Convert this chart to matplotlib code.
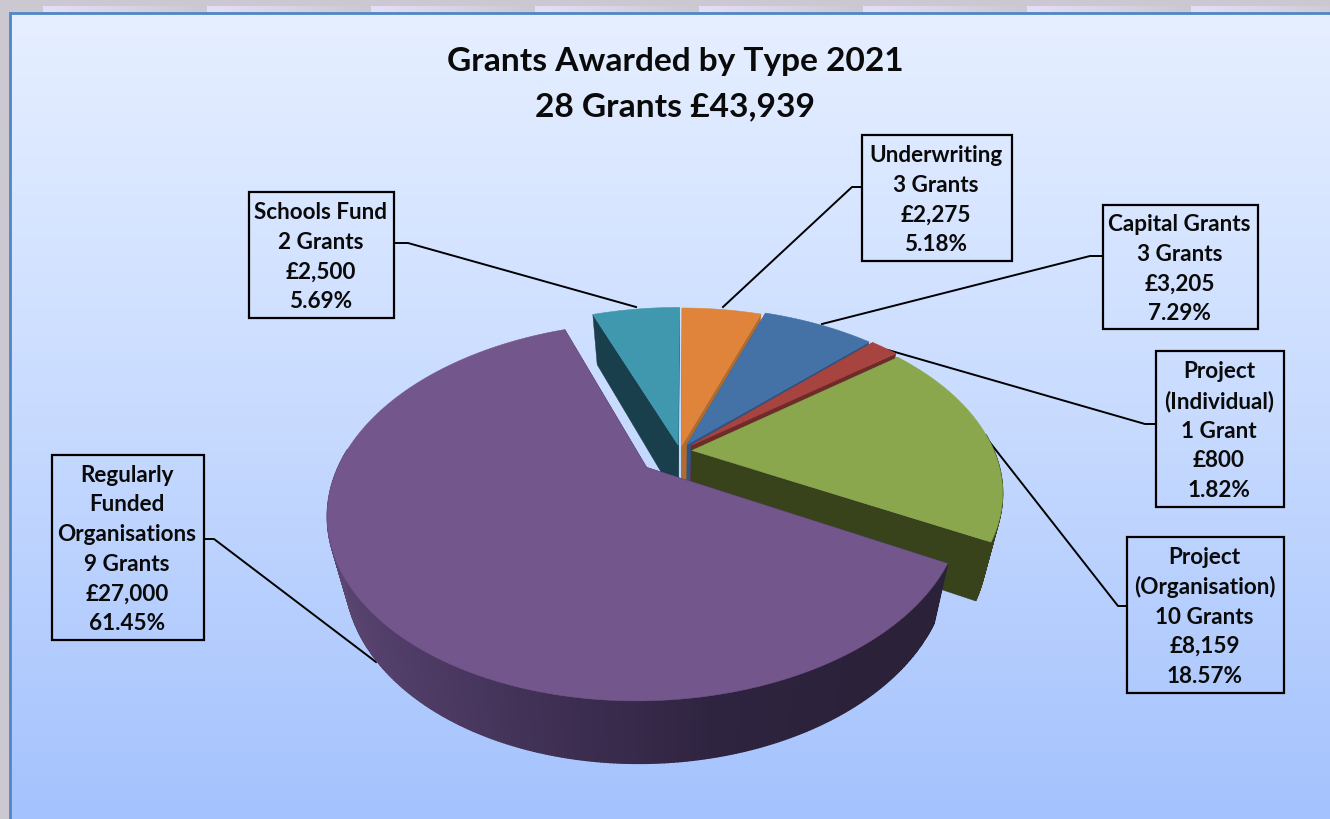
import numpy as np
import matplotlib
matplotlib.use("Agg")
import matplotlib.pyplot as plt
from matplotlib.colors import to_rgb, LinearSegmentedColormap
from matplotlib.patches import Polygon, Rectangle

plt.rcParams['font.family'] = ['Lato', 'DejaVu Sans']

# ---- data (clockwise from the top of the pie) ----
categories = ["Underwriting", "Capital Grants", "Project\n(Individual)",
              "Project\n(Organisation)", "Regularly\nFunded\nOrganisations", "Schools Fund"]
grant_labels = ["3 Grants", "3 Grants", "1 Grant", "10 Grants", "9 Grants", "2 Grants"]
amounts = [2275, 3205, 800, 8159, 27000, 2500]
percents = ["5.18%", "7.29%", "1.82%", "18.57%", "61.45%", "5.69%"]
title_lines = "Grants Awarded by Type 2021\n28 Grants £43,939"

# ---- style ----
top_colors = ["#df843a", "#4472a6", "#a84440", "#8aa74e", "#72568c", "#4098ae"]
side_colors = ["#b06c2e", "#2f5584", "#6f2a2a", "#38431c", None, "#193f4c"]
explode = [0.03, 0.045, 0.05, 0.04, 0.143, 0.035]
start_angle = 0.2
draw_order = [5, 0, 1, 2, 3, 4]
CX, CY, RX, RY, PERSP, SHRINK = 680, 451, 302, 171.5, 0.228, 0.95

boxes = [(862, 135, 1012, 261), (1103, 205, 1258, 329), (1156, 351, 1284, 507),
         (1127, 537, 1284, 693), (52, 455, 204, 640), (249, 192, 394, 318)]
leaders = [[(862, 187), (852, 187), (723, 307)],
           [(1103, 256), (1090, 256), (822, 324)],
           [(1156, 424), (1145, 424), (888, 350)],
           [(1127, 606), (1118, 606), (988, 440)],
           [(204, 539), (214, 539), (376, 662)],
           [(394, 243), (408, 243), (636, 307)]]

fig = plt.figure(figsize=(13.3, 8.19), dpi=100, facecolor="#cbc8d2")
ax = fig.add_axes([0, 0, 1, 1])
ax.axis("off")

# window chrome behind the chart
strip = LinearSegmentedColormap.from_list("s", ["#e5def8", "#cbc8d2"])
for x0 in range(43, 1330, 164):
    ax.imshow(np.linspace(0, 1, 64)[None, :], cmap=strip, aspect="auto",
              extent=(x0, x0 + 164, 12, 6), zorder=0)
# chart background
bg = LinearSegmentedColormap.from_list("b", ["#e6efff", "#c8dbff", "#a4c2fd"])
ax.imshow(np.linspace(0, 1, 256)[:, None], cmap=bg, aspect="auto",
          extent=(10, 1330, 819, 13), zorder=1)
ax.set_xlim(0, 1330)
ax.set_ylim(819, 0)
ax.plot([10, 10, 1330], [819, 13, 13], color="#4f86c6", lw=2, zorder=2,
        solid_joinstyle="miter")


def project(u, v, low=False):
    s = 1 / (1 + PERSP * v)
    if low:
        return CX + RX * u * s * SHRINK, CY - RY * v * s + 56 - 6 * v
    return CX + RX * u * s, CY - RY * v * s


fractions = np.array(amounts) / sum(amounts)
edges = start_angle + np.concatenate([[0], np.cumsum(fractions)]) * 360
purple_ramp = LinearSegmentedColormap.from_list(
    "p", ["#5d4874", "#4f3c66", "#3e2f53", "#2f2440", "#2b2139"])

z = 5
for i in draw_order:
    a0, a1 = edges[i], edges[i + 1]
    th = np.radians(np.linspace(a0, a1, max(8, int((a1 - a0) * 2))))
    mid = np.radians((a0 + a1) / 2)
    ex, ey = explode[i] * np.sin(mid), explode[i] * np.cos(mid)
    u = ex + np.sin(th)
    v = ey + np.cos(th)
    base = side_colors[i]
    wall = base if base else "#2b2139"
    # radial walls
    for uu, vv in ((u[0], v[0]), (u[-1], v[-1])):
        t = project(np.array([ex, uu]), np.array([ey, vv]))
        b = project(np.array([uu, ex]), np.array([vv, ey]), low=True)
        ax.add_patch(Polygon(np.c_[np.r_[t[0], b[0]], np.r_[t[1], b[1]]],
                             closed=True, fc=wall, ec=wall, lw=0.3, zorder=z))
    z += 1
    # rim strips (only the part that faces the viewer)
    tx, ty = project(u, v)
    bx, by = project(u, v, low=True)
    for k in range(len(th) - 1):
        if np.cos(th[k]) > 0.1:
            continue
        if base:
            col = base
        else:
            col = purple_ramp(np.clip((np.sin(th[k]) + 1) / 1.6, 0, 1))
        ax.add_patch(Polygon([(tx[k], ty[k]), (tx[k + 1], ty[k + 1]),
                              (bx[k + 1], by[k + 1]), (bx[k], by[k])],
                             closed=True, fc=col, ec=col, lw=1.0, zorder=z))
    z += 1
    # top face
    ax_, ay_ = project(np.array([ex]), np.array([ey]))
    ax.add_patch(Polygon(np.c_[np.r_[ax_, tx], np.r_[ay_, ty]], closed=True,
                         fc=top_colors[i], ec=top_colors[i], lw=0.4, zorder=z))
    z += 1

# leader lines and label boxes
for i, cat in enumerate(categories):
    pts = np.array(leaders[i])
    ax.plot(pts[:, 0], pts[:, 1], color="black", lw=1.4, zorder=4)
    x0, y0, x1, y1 = boxes[i]
    ax.add_patch(Rectangle((x0, y0), x1 - x0, y1 - y0, fc="none", ec="black", lw=1.6, zorder=61))
    lines = cat.split("\n") + [grant_labels[i], f"£{amounts[i]:,}", percents[i]]
    n = len(lines)
    pitch = 29.7
    ym = (y0 + y1) / 2
    for j, line in enumerate(lines):
        ax.text((x0 + x1) / 2 - 1, ym + 2 + (j - (n - 1) / 2) * pitch, line, ha="center", va="center",
                fontsize=16.2, fontweight="bold", color="#0a0a0a", zorder=62)

for j, line in enumerate(title_lines.split("\n")):
    ax.text(675, 62 + j * 45, line, ha="center", va="center", fontsize=24.1,
            fontweight="bold", color="#0a0a0a", zorder=62)

fig.savefig("out.png", dpi=100, facecolor=fig.get_facecolor())
